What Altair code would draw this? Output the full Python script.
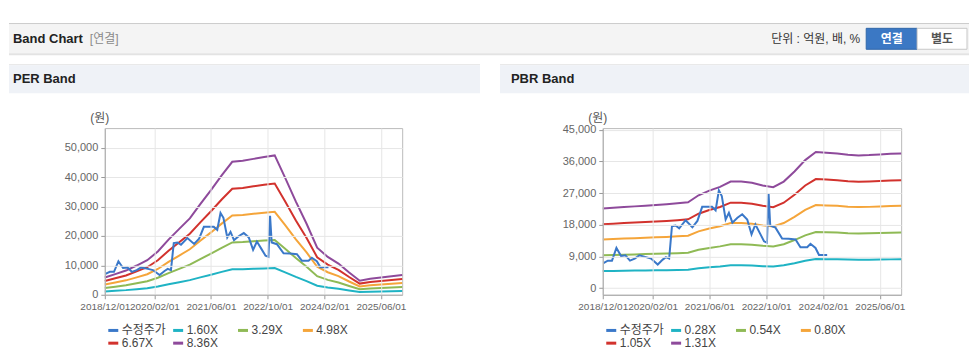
import altair as alt
import pandas as pd

# ---------------- data ----------------
band_dates = [
    "2018-12-01", "2019-03-01", "2019-06-01", "2019-09-01", "2019-12-01",
    "2020-03-01", "2020-06-01", "2020-09-01", "2020-12-01",
    "2021-03-01", "2021-06-01", "2021-09-01", "2021-12-01",
    "2022-03-01", "2022-06-01", "2022-09-01", "2022-12-01",
    "2023-03-01", "2023-06-01", "2023-09-01", "2023-12-01",
    "2024-03-01", "2024-06-01", "2024-09-01", "2024-12-01",
    "2025-03-01", "2025-06-01", "2025-09-01", "2025-12-01",
]
eps = [700, 840, 985, 1190, 1405, 1760, 2245, 2680, 3110, 3690, 4260, 4860, 5410,
       5450, 5530, 5610, 5670, 4760, 3790, 2890, 1915, 1540, 1270, 905, 570,
       650, 700, 755, 800]
bps = [17300, 17450, 17600, 17740, 17890, 18040, 18200, 18400, 18620, 20150, 21160,
       21960, 23130, 23130, 22860, 22290, 21900, 23120, 25300, 27790, 29530, 29380,
       29240, 28940, 28790, 28870, 29010, 29160, 29230]
per_multiples = [1.60, 3.29, 4.98, 6.67, 8.36]
pbr_multiples = [0.28, 0.54, 0.80, 1.05, 1.31]

price_label = "수정주가"
price_dates = [
    "2018-12-07", "2019-01-13", "2019-02-18", "2019-03-28", "2019-05-07", "2019-06-13",
    "2019-07-22", "2019-09-01", "2019-10-10", "2019-12-07", "2020-01-19", "2020-03-16",
    "2020-04-28", "2020-05-25", "2020-06-22", "2020-07-16", "2020-08-16", "2020-09-16",
    "2020-11-10", "2021-01-07", "2021-02-19", "2021-04-01", "2021-06-25", "2021-07-25",
    "2021-08-22", "2021-09-16", "2021-10-19", "2021-11-16", "2021-12-16", "2022-01-28",
    "2022-03-10", "2022-04-22", "2022-05-29", "2022-07-01", "2022-08-07", "2022-09-13",
    "2022-10-08", "2022-10-22", "2022-11-05", "2022-12-20", "2023-02-15", "2023-04-12",
    "2023-06-10", "2023-07-22", "2023-09-18", "2023-10-16", "2023-11-28", "2023-12-28",
    "2024-03-07",
]
price = [7100, 7800, 7800, 11400, 9100, 9300, 7800, 8400, 9300, 8800,
         8400, 6700, 8100, 8800, 8400, 17600, 17800, 17000, 19300, 17300,
         19100, 23100, 23100, 22100, 27800, 26200, 19500, 21400, 18600, 20000,
         21000, 19500, 15300, 18100, 15700, 13300, 12900, 26900, 17800, 17200,
         14100, 14000, 13800, 11600, 11600, 12600, 11400, 9400, 9400]

x_ticks = ["2018-12-01", "2020-02-01", "2021-06-01", "2022-10-01", "2024-02-01", "2025-06-01"]
per_y_ticks = [0, 10000, 20000, 30000, 40000, 50000]
pbr_y_ticks = [0, 9000, 18000, 27000, 36000, 45000]

series_colors = ["#3a78c9", "#1fb3c4", "#8fba55", "#f5a53a", "#d2322d", "#8e4a9b"]

FONT = "Liberation Sans, Noto Sans CJK KR, sans-serif"
W_PER, W_PBR, H = 298, 299, 167


def dt(s):
    y, m, d = (int(v) for v in s.split("-"))
    return alt.DateTime(year=y, month=m, date=d, utc=True)


def band_frame(base, multiples):
    rows = []
    for k in multiples:
        lab = f"{k:.2f}X"
        for d, b in zip(band_dates, base):
            rows.append({"date": d, "value": b * k, "series": lab})
    return pd.DataFrame(rows)


price_df = pd.DataFrame({"date": price_dates, "value": price, "series": price_label})
dummy = pd.DataFrame({"k": [0]})


def rect(x, x2, y, y2, fill, stroke=None):
    kw = {"fill": fill}
    if stroke:
        kw["stroke"] = stroke
        kw["strokeWidth"] = 1
    return alt.Chart(dummy).mark_rect(**kw).encode(
        x=alt.value(x), x2=alt.value(x2), y=alt.value(y), y2=alt.value(y2))


def text(t, x, y, size=12, color="#333", weight="normal", align="left"):
    return alt.Chart(dummy).mark_text(
        text=t, font=FONT, fontSize=size, color=color, fontWeight=weight,
        align=align, baseline="middle").encode(x=alt.value(x), y=alt.value(y))


def panel(base, multiples, ymax_dom, ymin_dom, yticks, width, title, hx0, hx1, top_header):
    labels = [price_label] + [f"{k:.2f}X" for k in multiples]
    bands = band_frame(base, multiples)
    xenc = alt.X("date:T",
                 scale=alt.Scale(type="utc", domain=[dt("2018-12-01"), dt("2025-12-01")]),
                 axis=alt.Axis(values=[dt(s) for s in x_ticks],
                               labelExpr="utcFormat(datum.value, '%Y/%m/%d')",
                               labelOverlap=False, labelBound=False, labelFontSize=10,
                               title=None, labelFlush=False, zindex=1))
    yenc = alt.Y("value:Q",
                 scale=alt.Scale(domain=[ymin_dom, ymax_dom], nice=False, zero=False),
                 axis=alt.Axis(values=yticks, format=",d", formatType="number",
                               title=None, zindex=1))
    cenc = alt.Color("series:N",
                     scale=alt.Scale(domain=labels, range=series_colors),
                     legend=alt.Legend(orient="none", legendX=2, legendY=196,
                                       columns=4, direction="horizontal", title=None,
                                       symbolType="stroke", symbolStrokeWidth=3,
                                       symbolSize=100, labelFont=FONT, labelFontSize=12,
                                       labelColor="#444", gridAlign="all",
                                       columnPadding=0, rowPadding=0, labelOffset=2,
                                       padding=0))
    band_layer = alt.Chart(bands).mark_line(strokeWidth=2).encode(
        x=xenc, y=yenc, color=cenc, detail="series:N")
    price_layer = alt.Chart(price_df).mark_line(strokeWidth=2).encode(
        x=xenc, y=yenc, color=cenc)

    layers = []
    if top_header:
        layers += [
            rect(-96, 866, -105, -104, "#bdbdbd"),
            rect(-96, 866, -104, -75, "#f4f4f4"),
            rect(-96, 866, -75, -73, "#e3e3e3"),
            text("Band Chart", -92, -89, size=13, color="#222", weight="bold"),
            text("[연결]", -15, -89, size=12, color="#8a8a8a"),
            text("단위 : 억원, 배, %", 757, -89, size=12, color="#333", align="right"),
            rect(763, 814, -100, -79, "#3b78c4", "#2f66aa"),
            text("연결", 788.5, -89.5, size=12, color="#ffffff", weight="bold", align="center"),
            rect(814, 864, -100, -79, "#ffffff", "#c8c8c8"),
            text("별도", 839, -89.5, size=12, color="#555", weight="bold", align="center"),
        ]
    layers += [
        rect(hx0, hx1, -64, -63, "#e2e2e2"),
        rect(hx0, hx1, -63, -35, "#eff2f7"),
        text(title, -92, -49, size=13, color="#222", weight="bold"),
        text("(원)", -5, -10, size=12, color="#555", align="center"),
        band_layer,
        price_layer,
    ]
    return alt.layer(*layers).properties(width=width, height=H)


per = panel(eps, per_multiples, 56700, 0, per_y_ticks, W_PER, "PER Band", -96, 376, True)
pbr = panel(bps, pbr_multiples, 45500, -1900, pbr_y_ticks, W_PBR, "PBR Band", -103, 367, False)

chart = alt.hconcat(per, pbr, spacing=201, bounds="flush").resolve_scale(
    color="independent", x="independent", y="independent"
).resolve_legend(color="independent").properties(
    padding={"top": 14, "left": 0, "right": 0, "bottom": 0}
).configure_view(stroke="#bbbbbb").configure_axis(
    labelFont=FONT, labelFontSize=11, labelColor="#666", tickColor="#999",
    tickSize=4, domainColor="#aaa", gridColor="#e6e6e6", labelPadding=3
).configure_axisY(format=",d").configure_axisX(
    labelExpr="utcFormat(datum.value, '%Y/%m/%d')", labelOverlap=False, labelBound=False,
    labelFontSize=10
)

chart.save("out.html", embed_options={"renderer": "svg", "actions": False})
